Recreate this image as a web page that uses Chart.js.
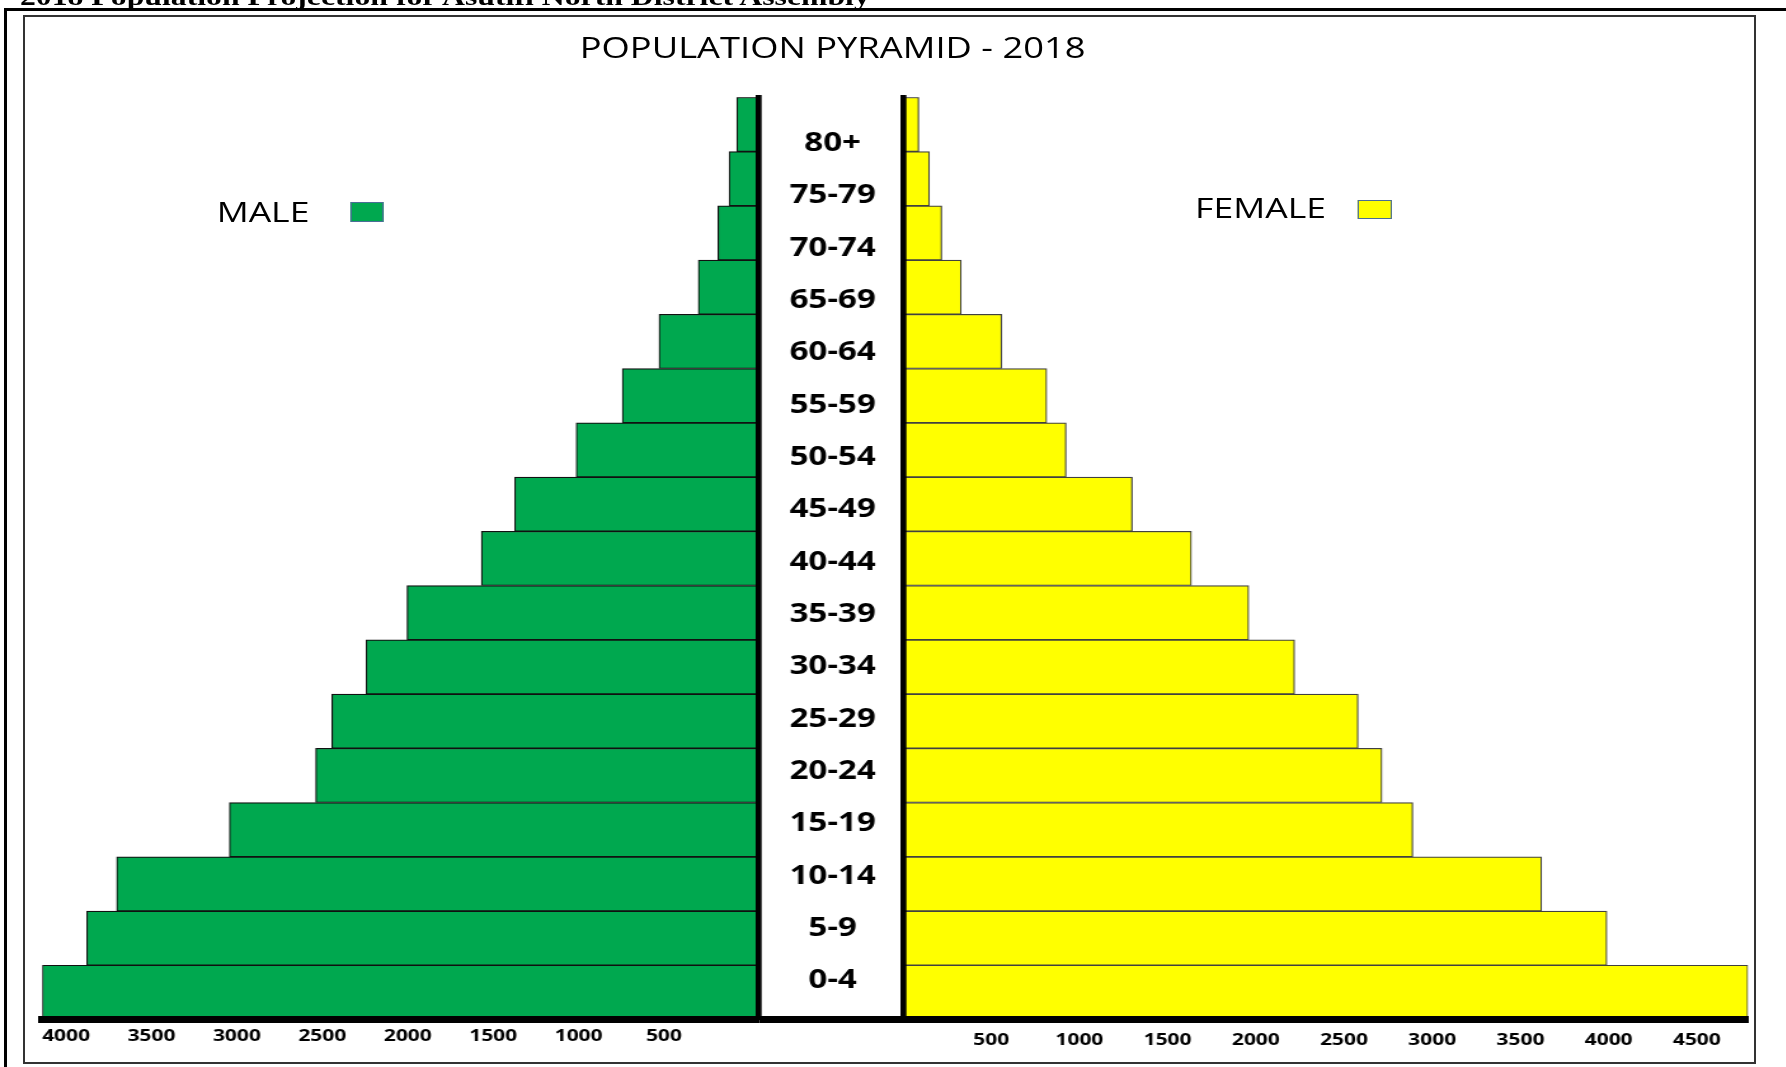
<!DOCTYPE html>
<html>
<head>
<meta charset="utf-8">
<title>Population Pyramid - 2018</title>
<script src="https://cdn.jsdelivr.net/npm/chart.js"></script>
<style>
  html, body { margin: 0; padding: 0; background: #fff; overflow: hidden; }
  body { width: 1786px; height: 1067px; position: relative; font-family: "Open Sans", sans-serif; }
  .rule-top { position: absolute; left: 4px; top: 8px; width: 1782px; height: 3px; background: #000; }
  .rule-left { position: absolute; left: 4px; top: 8px; width: 3px; height: 1059px; background: #000; }
  .frame { position: absolute; left: 23px; top: 15px; width: 1733px; height: 1049px; box-sizing: border-box; border: 2px solid #333; }
  /* the whole figure is drawn narrow and widened, as in the source document */
  .stretch { position: absolute; left: 0; top: 0; width: 1406.3px; height: 1067px; transform: scaleX(1.27); transform-origin: 0 0; }
  .stretch canvas { position: absolute; }
  .heading { position: absolute; left: 15.7px; top: -15.9px; font: bold 25px/25px "Liberation Serif", serif; color: #000; white-space: nowrap; }
  .title { position: absolute; left: 655.6px; top: 32.6px; transform: translateX(-50%); font-size: 28.6px; line-height: 28.6px; color: #000; white-space: nowrap; }
  .key-text { position: absolute; font-size: 28px; line-height: 28px; color: #000; white-space: nowrap; }
  .key-box { position: absolute; box-sizing: border-box; border: 1.5px solid #4a6e96; }
</style>
</head>
<body>
<div class="rule-top"></div>
<div class="rule-left"></div>
<div class="frame"></div>

<div class="stretch">
  <div class="heading">2018 Population Projection for Asutifi North District Assembly</div>
  <div class="title">POPULATION PYRAMID - 2018</div>

  <div class="key-text" style="left:170.6px; top:196.8px;">MALE</div>
  <div class="key-box" style="left:275.6px; top:201.7px; width:26.2px; height:20px; background:#00A84F;"></div>
  <div class="key-text" style="left:941px; top:193.4px;">FEMALE</div>
  <div class="key-box" style="left:1069.3px; top:200px; width:26.5px; height:18.5px; background:#FFFF00;"></div>

  <canvas id="maleChart" width="584" height="985" style="left:24px; top:80px;"></canvas>
  <canvas id="femaleChart" width="792" height="985" style="left:598px; top:80px;"></canvas>
  <canvas id="ageChart" width="170" height="930" style="left:575px; top:100px;"></canvas>
</div>

<script>
// Age groups, youngest first (drawn bottom to top)
const ageGroups = ['0-4', '5-9', '10-14', '15-19', '20-24', '25-29', '30-34', '35-39',
                   '40-44', '45-49', '50-54', '55-59', '60-64', '65-69', '70-74', '75-79', '80+'];

// Projected population by age group, 2018
const maleValues   = [4195, 3935, 3760, 3100, 2595, 2500, 2300, 2060, 1625, 1430, 1070, 800, 585, 355, 240, 175, 130];
const femaleValues = [4790, 3990, 3620, 2890, 2715, 2580, 2220, 1960, 1635, 1300, 925, 815, 560, 330, 220, 150, 90];

// Count axis tick labels
const maleTickValues   = [500, 1000, 1500, 2000, 2500, 3000, 3500, 4000];
const femaleTickValues = [500, 1000, 1500, 2000, 2500, 3000, 3500, 4000, 4500];

const maleColour = '#00A84F';
const femaleColour = '#FFFF00';

Chart.defaults.font.family = '"Open Sans", sans-serif';
Chart.defaults.color = '#000';
Chart.defaults.animation = false;

const countFont = { family: '"Open Sans", sans-serif', size: 16.5, weight: 'bold' };
const ageFont = { family: '"Open Sans", sans-serif', size: 26, weight: 'bold' };

function countAxis(opts) {
  return {
    type: 'linear',
    reverse: opts.reverse,
    min: 0,
    max: opts.max,
    ticks: {
      autoSkip: false,
      maxRotation: 0,
      padding: opts.padding,
      labelOffset: opts.labelOffset,
      font: countFont,
      color: '#000',
      callback: (v) => String(v)
    },
    afterBuildTicks: (s) => { s.ticks = opts.ticks.map((v) => ({ value: v })); },
    grid: { display: false, drawTicks: false },
    border: { display: true, color: '#000', width: 7, z: 1 },
    afterFit: (s) => { s.height = 40; s.paddingLeft = 0; s.paddingRight = 0; }
  };
}

function ageBandAxis(position) {
  return {
    position: position,
    reverse: true,
    ticks: { display: false },
    grid: { display: false, drawTicks: false },
    border: { display: true, color: '#000', width: 4.7, z: 1 },
    afterFit: (s) => { s.width = 0; }
  };
}

function barDataset(label, values, fill, edge) {
  return {
    label: label,
    data: values,
    backgroundColor: fill,
    borderColor: edge,
    borderWidth: 1.2,
    borderSkipped: false,
    categoryPercentage: 1,
    barPercentage: 1
  };
}

const quiet = { legend: { display: false }, title: { display: false }, tooltip: { enabled: false } };

// Left half: males, counted outward to the left
new Chart(document.getElementById('maleChart'), {
  type: 'bar',
  data: { labels: ageGroups, datasets: [barDataset('MALE', maleValues, maleColour, '#111')] },
  options: {
    indexAxis: 'y',
    responsive: false,
    animation: false,
    layout: { padding: { left: 9.3, right: 10.4, top: 17.3, bottom: 5.5 } },
    plugins: quiet,
    scales: {
      x: countAxis({ reverse: true, max: Math.max(...maleValues), ticks: maleTickValues, padding: 7, labelOffset: -7.5 }),
      y: ageBandAxis('right')
    }
  }
});

// Baseline continued under the age labels between the two halves
const gapBaseline = {
  id: 'gapBaseline',
  afterDraw(chart) {
    const { ctx, chartArea } = chart;
    ctx.save();
    ctx.fillStyle = '#000';
    ctx.fillRect(0, chartArea.bottom - 3.5, chartArea.left, 7);
    ctx.restore();
  }
};

// Right half: females, counted outward to the right
new Chart(document.getElementById('femaleChart'), {
  type: 'bar',
  data: { labels: ageGroups, datasets: [barDataset('FEMALE', femaleValues, femaleColour, '#404040')] },
  options: {
    indexAxis: 'y',
    responsive: false,
    animation: false,
    layout: { padding: { left: 113, right: 13.6, top: 17.3, bottom: 5.5 } },
    plugins: quiet,
    scales: {
      x: countAxis({ reverse: false, max: Math.max(...femaleValues), ticks: femaleTickValues, padding: 11, labelOffset: 0 }),
      y: ageBandAxis('left')
    }
  },
  plugins: [gapBaseline]
});

// Age-group axis in the middle column, labels centred on the column
const ageCanvasLeft = 575;
const ageCentre = 655.6;
const probe = document.createElement('canvas').getContext('2d');
probe.font = `bold ${ageFont.size}px ${ageFont.family}`;
const widestAge = Math.max(...ageGroups.map((g) => probe.measureText(g).width));

new Chart(document.getElementById('ageChart'), {
  type: 'bar',
  data: { labels: ageGroups, datasets: [] },
  options: {
    indexAxis: 'y',
    responsive: false,
    animation: false,
    layout: { padding: { left: ageCentre - ageCanvasLeft - widestAge / 2, right: 0, top: 17.6, bottom: 23 } },
    plugins: quiet,
    scales: {
      x: { display: false },
      y: {
        position: 'left', reverse: true,
        ticks: { font: ageFont, color: '#000', crossAlign: 'center', padding: 0, autoSkip: false },
        grid: { display: false, drawTicks: false },
        border: { display: false },
        afterFit: (s) => { s.width = widestAge; }
      }
    }
  }
});
</script>
</body>
</html>
